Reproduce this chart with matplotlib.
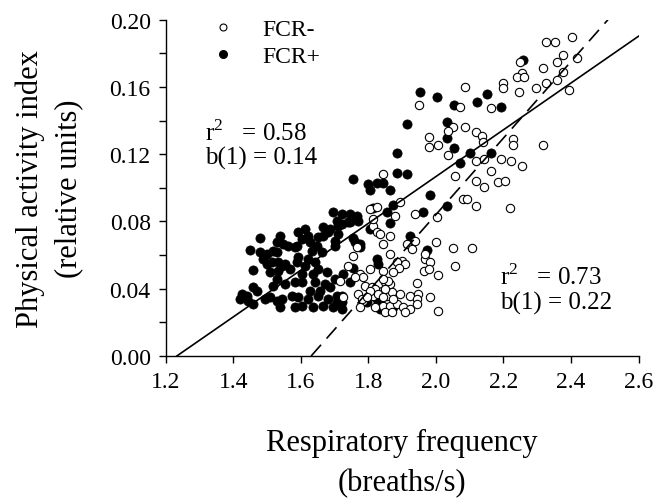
import numpy as np
import matplotlib
matplotlib.use('Agg')
import matplotlib.pyplot as plt
from matplotlib.lines import Line2D

plt.rcParams['font.family'] = ['Liberation Serif', 'DejaVu Serif']
plt.rcParams['mathtext.fontset'] = 'custom'
plt.rcParams['mathtext.rm'] = 'Liberation Serif'

# FCR+ (filled) points: respiratory frequency, activity index
fcr_pos_x = [2.259, 1.953, 2.004, 2.053, 2.122, 2.152, 2.192,
             1.913, 2.032, 2.032, 2.053, 1.884, 2.101, 2.162, 2.071, 1.884, 1.913, 1.844,
             1.864, 1.982, 1.874, 2.032, 1.962, 1.854, 1.864,
             1.799, 1.824, 1.804, 1.755, 1.814,
             1.721, 1.745, 1.765, 1.745, 1.721, 1.804, 1.923, 1.972, 1.755, 1.775, 1.775,
             1.824, 1.829, 1.755, 1.725, 1.745, 1.814, 1.824, 1.834, 1.795, 1.834, 1.874,
             1.721, 1.721, 1.824,
             1.592, 1.612, 1.622, 1.602, 1.587, 1.666, 1.681, 1.666, 1.711, 1.711, 1.740,
             1.770, 1.627, 1.647, 1.661, 1.632, 1.622, 1.701, 1.701, 1.760,
             1.587, 1.612, 1.641, 1.651, 1.676, 1.636, 1.701,
             1.602, 1.641, 1.671, 1.627, 1.656, 1.686,
             1.592, 1.622, 1.651, 1.681, 1.706, 1.706, 1.602, 1.636, 1.666, 1.696, 1.721,
             1.696, 1.706, 1.686, 1.651,
             1.479, 1.538, 1.528, 1.548, 1.562, 1.582,
             1.449, 1.479, 1.498, 1.518, 1.528,
             1.488, 1.498, 1.513, 1.533, 1.543, 1.553,
             1.459, 1.508, 1.533, 1.567, 1.592, 1.602,
             1.528, 1.518, 1.553, 1.582, 1.459, 1.469,
             1.424, 1.439, 1.419, 1.444, 1.459,
             1.493, 1.508, 1.528, 1.543, 1.572, 1.538, 1.582]
fcr_pos_y = [0.176, 0.157, 0.154, 0.149, 0.151, 0.156, 0.148,
             0.138, 0.139, 0.1295, 0.1235, 0.121, 0.121, 0.121, 0.115, 0.109, 0.108, 0.103,
             0.099, 0.096, 0.090, 0.089, 0.0855, 0.0855, 0.079,
             0.102, 0.103, 0.099, 0.105, 0.088,
             0.0844, 0.0844, 0.0834, 0.0795, 0.0785, 0.0755, 0.0712, 0.0632, 0.070, 0.0666, 0.0646,
             0.0577, 0.0547, 0.0522, 0.0488, 0.0438, 0.0363, 0.0339, 0.0323, 0.0319, 0.028, 0.029,
             0.0359, 0.0319, 0.0299,
             0.0736, 0.0755, 0.0715, 0.0696, 0.0656, 0.0765, 0.0736, 0.0715, 0.0775, 0.0726, 0.0795,
             0.0805, 0.0676, 0.0656, 0.0617, 0.0626, 0.0577, 0.0656, 0.0686, 0.0676,
             0.0557, 0.0537, 0.0557, 0.0517, 0.0498, 0.0488, 0.0458,
             0.0438, 0.0438, 0.0428, 0.0388, 0.0388, 0.0408,
             0.0349, 0.0339, 0.0359, 0.0339, 0.0359, 0.0319, 0.0299, 0.029, 0.0299, 0.029, 0.028,
             0.0855, 0.0805, 0.0755, 0.0706,
             0.070, 0.0715, 0.0676, 0.0666, 0.0656, 0.0646,
             0.0632, 0.062, 0.0607, 0.0626, 0.0617,
             0.0577, 0.0547, 0.0557, 0.0557, 0.0537, 0.0547,
             0.0513, 0.0501, 0.0507, 0.0517, 0.0587, 0.0488,
             0.0458, 0.0418, 0.0428, 0.0438, 0.0408, 0.0388,
             0.0369, 0.0355, 0.0339, 0.0329, 0.0309,
             0.0339, 0.0349, 0.0329, 0.0339, 0.0359, 0.029, 0.029]

# FCR- (open) points
fcr_neg_x = [2.326, 2.353, 2.402, 2.249, 2.375, 2.359, 2.419, 2.318, 2.375, 2.254, 2.239, 2.261,
             2.359, 2.326, 2.198, 2.198, 2.247, 2.296, 2.395, 2.086, 1.951, 2.071, 2.162, 2.049,
             2.036, 2.086, 1.980, 1.980, 2.007, 2.120, 2.135, 2.140, 2.227, 2.227, 2.318, 2.036,
             2.120, 2.142, 2.192, 2.221, 2.254, 2.162, 2.056, 2.120, 2.142, 2.185, 2.204, 1.844,
             1.893, 2.079, 2.093, 2.120, 2.219, 1.938, 1.878,
             1.804, 1.824, 2.002, 1.814, 1.814,
             1.864, 1.824, 1.765, 1.755, 1.913, 1.928, 1.938, 2.000, 2.051, 2.106,
             1.967, 1.982, 1.964, 1.980, 1.899, 1.908, 1.884, 1.891, 1.844, 1.874, 2.056, 2.007,
             1.804, 1.943, 1.849, 1.864, 1.790, 1.809, 1.839, 1.814, 1.854, 1.869, 1.893, 1.923,
             1.948, 1.943, 1.785, 1.775, 1.844, 1.864, 1.884, 1.903, 1.923, 1.943, 1.849, 1.908,
             1.982, 2.007, 1.716,
             1.967, 1.874, 1.834, 1.844, 1.864, 1.775, 1.785, 1.760, 1.859, 1.844,
             1.819, 1.804, 1.829, 1.849, 1.770, 1.780, 1.795, 1.844, 1.819, 1.869,
             1.740, 1.725]
fcr_neg_y = [0.1869, 0.1869, 0.1895, 0.175, 0.1792, 0.175, 0.177, 0.1711, 0.1691, 0.1683, 0.1657, 0.1657,
             0.1641, 0.1622, 0.1624, 0.1592, 0.1572, 0.1592, 0.1584, 0.1602, 0.1493, 0.1479, 0.1473, 0.1364,
             0.134, 0.1364, 0.1304, 0.1245, 0.1255, 0.133, 0.131, 0.1271, 0.129, 0.1255, 0.1255, 0.1195,
             0.1161, 0.1172, 0.1172, 0.1161, 0.1132, 0.1102, 0.1072, 0.1042, 0.1003, 0.1033, 0.1042, 0.1082,
             0.0914, 0.0934, 0.0934, 0.089, 0.0878, 0.0844, 0.0831,
             0.0874, 0.0884, 0.0825, 0.0775, 0.0815,
             0.0715, 0.0736, 0.0646, 0.0597, 0.0666, 0.0636, 0.0686, 0.068, 0.064, 0.064,
             0.0577, 0.0557, 0.0507, 0.0517, 0.0567, 0.0547, 0.0557, 0.0522, 0.0507, 0.0498, 0.0533, 0.0482,
             0.0517, 0.0432, 0.0438, 0.0428, 0.0418, 0.0408, 0.0388, 0.0359, 0.0359, 0.0379, 0.0369, 0.0359,
             0.0369, 0.0339, 0.0329, 0.029, 0.0299, 0.0299, 0.0309, 0.029, 0.028, 0.0309, 0.026, 0.026,
             0.0349, 0.0269, 0.0448,
             0.0607, 0.0339, 0.0726, 0.0666, 0.0607, 0.0488, 0.0468, 0.0468, 0.0448, 0.0458,
             0.0398, 0.0388, 0.0369, 0.0398, 0.0369, 0.0339, 0.0349, 0.0349, 0.029, 0.026,
             0.0537, 0.0349]

# regression lines: slope, x-intercept
fit_slope = [0.139, 0.2274]
fit_x0 = [1.232, 1.63]

fig = plt.figure(figsize=(6.54, 5.02), dpi=100)
ax = fig.add_axes([0.2538, 0.2888, 0.7225, 0.67])

ax.scatter(fcr_pos_x, fcr_pos_y, s=44, c='black', edgecolors='black', linewidths=0.5, zorder=3)
ax.scatter(fcr_neg_x, fcr_neg_y, s=36, facecolors='white', edgecolors='black', linewidths=0.8, zorder=4)

# solid line (all data), dashed (FCR-)
xs = np.array([fit_x0[0], 2.6])
ax.plot(xs, fit_slope[0] * (xs - fit_x0[0]), color='black', lw=1.2, zorder=5)
xd = np.array([fit_x0[1], fit_x0[1] + 0.2 / fit_slope[1]])
ax.plot(xd, fit_slope[1] * (xd - fit_x0[1]), color='black', lw=1.2, dashes=(9, 5), zorder=5)

ax.set_xlim(1.2, 2.6)
ax.set_ylim(0, 0.2)
ax.set_xticks(np.arange(1.2, 2.61, 0.2))
ax.set_xticklabels(['1.2', '1.4', '1.6', '1.8', '2.0', '2.2', '2.4', '2.6'])
ax.set_yticks(np.arange(0, 0.201, 0.04))
ax.set_yticklabels(['0.00', '0.04', '0.08', '0.12', '0.16', '0.20'])
ax.set_yticks(np.arange(0, 0.201, 0.02), minor=True)
ax.tick_params(axis='both', which='both', direction='out', length=5, width=1, labelsize=17, pad=6)
for s in ['top', 'right']:
    ax.spines[s].set_visible(False)
for s in ['left', 'bottom']:
    ax.spines[s].set_linewidth(1)

ax.set_xlabel('Respiratory frequency\n(breaths/s)', fontsize=22, labelpad=26, linespacing=1.45)
ax.set_ylabel('Physical activity index\n(relative units)', fontsize=22, labelpad=19, linespacing=1.4)

handles = [Line2D([], [], ls='none', marker='o', ms=5, mfc='white', mec='black', mew=0.8),
           Line2D([], [], ls='none', marker='o', ms=5.5, mfc='black', mec='black')]
ax.legend(handles, ['FCR-', 'FCR+'], loc='upper left', bbox_to_anchor=(0.025, 1.066), frameon=False,
          fontsize=17, handletextpad=0.7, labelspacing=0.22)

ax.text(0.083, 0.63, r'r$^2$   = 0.58' + '\nb(1) = 0.14', transform=ax.transAxes, fontsize=18,
        va='center', linespacing=1.1)
ax.text(0.707, 0.20, r'r$^2$   = 0.73' + '\nb(1) = 0.22', transform=ax.transAxes, fontsize=18,
        va='center', linespacing=1.1)

fig.savefig('out.png', dpi=100)
